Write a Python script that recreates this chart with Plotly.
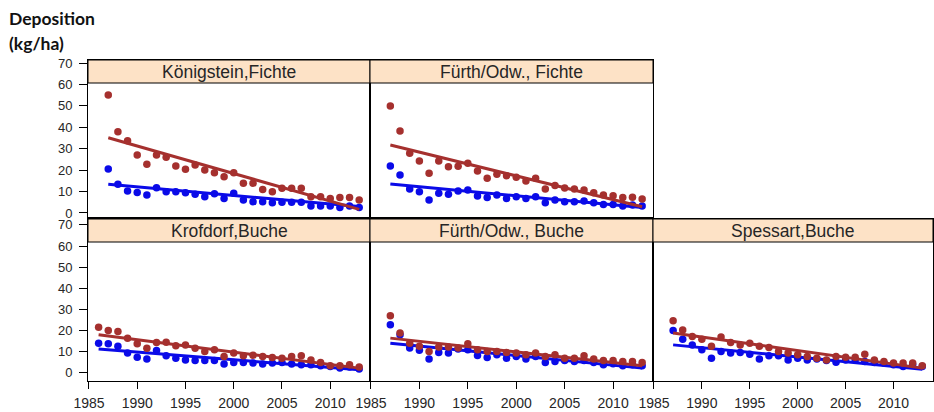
import plotly.graph_objects as go

W, H = 934, 412

# ---- data -------------------------------------------------------------
panel_titles = ["Königstein,Fichte", "Fürth/Odw., Fichte", "Krofdorf,Buche",
                "Fürth/Odw., Buche", "Spessart,Buche"]
first_years = [1987, 1987, 1986, 1987, 1987]
last_year = 2013

red_koenigstein = [55.1, 37.9, 33.7, 27.1, 22.7, 27.1, 26.0, 21.9, 20.4, 22.4, 20.1, 18.8, 16.9, 18.8,
                   13.9, 13.9, 11.0, 9.9, 11.5, 11.5, 11.5, 7.6, 7.6, 6.8, 7.2, 7.2, 6.1]
blue_koenigstein = [20.5, 13.4, 10.3, 9.6, 8.4, 11.8, 9.9, 9.9, 9.5, 8.7, 7.6, 9.0, 6.8, 9.2,
                    6.1, 5.3, 5.3, 4.8, 5.0, 5.0, 5.0, 3.3, 3.3, 3.3, 2.6, 3.3, 2.6]

red_fuerth_fichte = [49.9, 38.3, 27.9, 24.3, 18.5, 24.3, 21.6, 21.8, 23.2, 19.6, 16.2, 18.1, 17.4, 16.7,
                     14.9, 16.2, 11.2, 12.8, 11.7, 11.2, 10.7, 9.5, 8.4, 8.1, 7.2, 7.4, 6.5]
blue_fuerth_fichte = [21.9, 17.7, 11.2, 9.9, 6.1, 9.2, 8.7, 10.3, 10.7, 7.9, 7.2, 8.4, 6.8, 7.6,
                      6.8, 7.6, 4.8, 6.1, 5.3, 5.3, 5.6, 4.8, 4.0, 4.0, 3.3, 3.7, 3.3]

red_krofdorf = [21.6, 20.0, 19.5, 16.3, 13.7, 11.6, 14.3, 14.5, 12.8, 13.2, 11.6, 10.1, 10.9, 7.7,
                9.3, 8.0, 8.3, 7.7, 7.2, 6.9, 7.7, 8.0, 6.1, 4.9, 3.3, 3.3, 3.8, 2.7]
blue_krofdorf = [14.0, 13.7, 12.5, 9.3, 7.4, 6.5, 10.5, 8.0, 6.9, 6.1, 5.8, 5.8, 5.8, 4.2,
                 4.9, 4.9, 4.6, 4.2, 4.6, 4.9, 4.2, 3.8, 3.8, 3.3, 3.0, 2.2, 2.7, 1.8]

red_fuerth_buche = [27.0, 18.8, 14.0, 12.5, 10.1, 12.2, 12.2, 11.7, 13.7, 10.9, 10.1, 10.1, 9.6, 9.3,
                    8.5, 9.3, 7.7, 8.5, 6.9, 6.9, 8.0, 6.5, 5.8, 5.8, 5.3, 5.3, 4.9]
blue_fuerth_buche = [22.7, 18.0, 11.7, 10.6, 6.5, 9.6, 9.3, 11.2, 10.9, 8.2, 7.2, 8.5, 6.9, 7.7,
                     6.5, 7.7, 4.9, 5.3, 5.8, 5.3, 5.8, 4.9, 3.8, 4.3, 3.3, 3.8, 3.3]

red_spessart = [24.6, 20.3, 17.2, 15.9, 12.5, 16.9, 14.3, 13.2, 14.0, 12.5, 12.0, 10.1, 9.3, 8.5,
                7.7, 6.9, 6.1, 7.7, 7.4, 7.4, 8.8, 6.1, 5.3, 4.6, 4.6, 4.6, 3.3]
blue_spessart = [20.0, 15.9, 13.2, 10.9, 6.9, 10.1, 9.3, 9.6, 8.8, 6.5, 8.0, 8.0, 6.1, 6.9,
                 6.1, 6.5, 5.8, 5.0, 6.1, 6.1, 5.3, 4.9, 4.6, 3.8, 3.0, 3.8, 3.0]

red_series = [red_koenigstein, red_fuerth_fichte, red_krofdorf, red_fuerth_buche, red_spessart]
blue_series = [blue_koenigstein, blue_fuerth_fichte, blue_krofdorf, blue_fuerth_buche, blue_spessart]

# linear trend values at the first and last year of each panel
red_trend_start = [35.1, 31.7, 18.0, 16.4, 18.8]
red_trend_end = [1.7, 2.9, 2.2, 3.3, 2.2]
blue_trend_start = [13.4, 13.5, 11.2, 14.0, 13.2]
blue_trend_end = [3.0, 2.6, 1.4, 2.2, 1.7]

x_ticks = [1985, 1990, 1995, 2000, 2005, 2010]
y_ticks = [0, 10, 20, 30, 40, 50, 60, 70]

# ---- layout geometry (pixels) -----------------------------------------
col_edges = [(88, 370), (370, 653), (653, 933)]
row_edges = [(60, 217), (219, 381)]
strip_h = 23
row_yrange = [[-1.87, 71.4], [-3.9, 72.8]]
x_range = [1984.9, 2014.12]
grid_pos = [(0, 0), (0, 1), (1, 0), (1, 1), (1, 2)]

RED = "#a5302e"
BLUE = "#0a0ae8"
TXT = "#262626"
SANS = "Liberation Sans, Arial, sans-serif"


def px_x(v):
    return v / W


def px_y(v):
    return 1 - v / H


fig = go.Figure()
shapes = []
annotations = []

for i, title in enumerate(panel_titles):
    r, c = grid_pos[i]
    x0, x1 = col_edges[c]
    y0, y1 = row_edges[r]
    n = i + 1
    xa = "x" if n == 1 else f"x{n}"
    ya = "y" if n == 1 else f"y{n}"
    years = list(range(first_years[i], last_year + 1))

    fig.add_trace(go.Scatter(x=years, y=blue_series[i], mode="markers", xaxis=xa, yaxis=ya,
                             marker=dict(color=BLUE, size=7.5), showlegend=False, hoverinfo="skip"))
    fig.add_trace(go.Scatter(x=[years[0], years[-1]], y=[blue_trend_start[i], blue_trend_end[i]],
                             mode="lines", xaxis=xa, yaxis=ya, line=dict(color=BLUE, width=3),
                             showlegend=False, hoverinfo="skip"))
    fig.add_trace(go.Scatter(x=years, y=red_series[i], mode="markers", xaxis=xa, yaxis=ya,
                             marker=dict(color=RED, size=7.5), showlegend=False, hoverinfo="skip"))
    fig.add_trace(go.Scatter(x=[years[0], years[-1]], y=[red_trend_start[i], red_trend_end[i]],
                             mode="lines", xaxis=xa, yaxis=ya, line=dict(color=RED, width=3),
                             showlegend=False, hoverinfo="skip"))

    bottom = r == 1
    left = c == 0
    fig.layout[f"xaxis{'' if n == 1 else n}"] = dict(
        domain=[px_x(x0), px_x(x1)], range=x_range, anchor=ya, automargin=False,
        showline=True, mirror=True, linecolor="black", linewidth=1,
        showgrid=False, zeroline=False,
        ticks="outside" if bottom else "", ticklen=7, tickcolor="black",
        tickvals=x_ticks, showticklabels=bottom, ticklabelstandoff=2,
        tickfont=dict(family=SANS, size=14, color=TXT),
    )
    fig.layout[f"yaxis{'' if n == 1 else n}"] = dict(
        domain=[px_y(y1), px_y(y0)], range=row_yrange[r], anchor=xa, automargin=False,
        showline=True, mirror=True, linecolor="black", linewidth=1,
        showgrid=False, zeroline=False,
        ticks="outside" if left else "", ticklen=8, tickcolor="black",
        tickvals=y_ticks, showticklabels=left, ticklabelstandoff=4,
        tickfont=dict(family=SANS, size=13, color=TXT),
    )

    # strip header
    shapes.append(dict(type="rect", xref="paper", yref="paper",
                       x0=px_x(x0), x1=px_x(x1), y0=px_y(y0 + strip_h), y1=px_y(y0),
                       fillcolor="#fde2c6", line=dict(color="black", width=1)))
    annotations.append(dict(text=title, xref="paper", yref="paper",
                            x=px_x((x0 + x1) / 2), y=px_y(y0 + strip_h / 2 + 0.5),
                            xanchor="center", yanchor="middle", showarrow=False,
                            font=dict(family=SANS, size=17.5, color=TXT)))

# axis title
annotations.append(dict(text="<b>Deposition</b>", xref="paper", yref="paper",
                        x=px_x(7), y=px_y(19), xanchor="left", yanchor="middle", showarrow=False,
                        font=dict(family="Lato, Open Sans, sans-serif", size=17.5, color="#111")))
annotations.append(dict(text="<b>(kg/ha)</b>", xref="paper", yref="paper",
                        x=px_x(7), y=px_y(44), xanchor="left", yanchor="middle", showarrow=False,
                        font=dict(family="Lato, Open Sans, sans-serif", size=17.5, color="#111")))

fig.update_layout(
    width=W, height=H, margin=dict(l=0, r=0, t=0, b=0),
    paper_bgcolor="white", plot_bgcolor="white",
    shapes=shapes, annotations=annotations,
)

fig.write_html("out.html")
